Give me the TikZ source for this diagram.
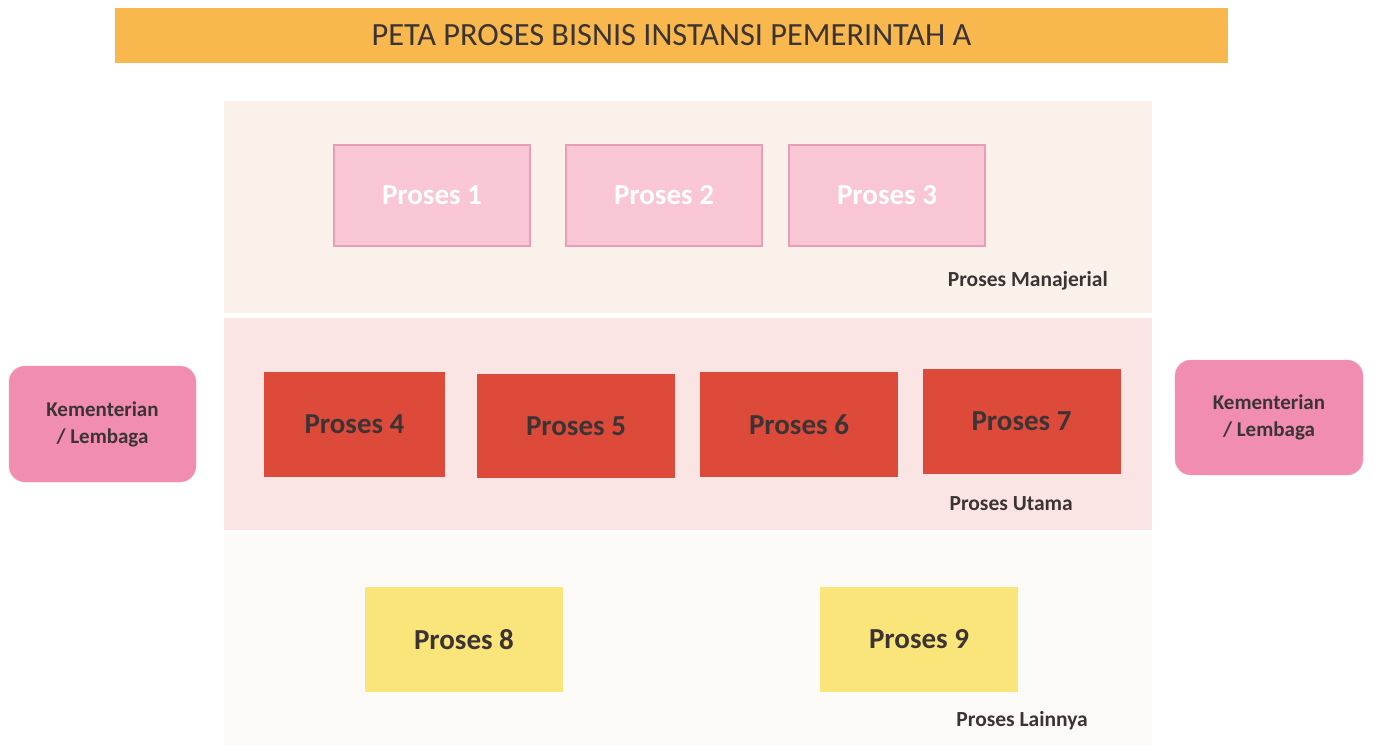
\documentclass[tikz,border=0pt]{standalone}
\usepackage{fontspec}
\setmainfont{Carlito}
\usepackage{xcolor}
\usepackage{tikz}
\definecolor{titleorange}{RGB}{248, 184, 78}
\definecolor{bandbeige}{RGB}{250, 242, 234}
\definecolor{bandpink}{RGB}{250, 228, 228}
\definecolor{bandwhite}{RGB}{252, 250, 246}
\definecolor{softpink}{RGB}{248, 198, 212}
\definecolor{softpinkline}{RGB}{234, 158, 182}
\definecolor{mainred}{RGB}{222, 74, 58}
\definecolor{lembagapink}{RGB}{240, 141, 176}
\definecolor{otheryellow}{RGB}{250, 229, 122}
\definecolor{darktext}{RGB}{60, 52, 52}
\usetikzlibrary{positioning, calc}

\begin{document}
\begin{tikzpicture}[
    x=1pt, y=-1pt,
    band/.style={rectangle, anchor=north west, inner sep=0pt,
                 minimum width=928pt, minimum height=212pt},
    mgrbox/.style={rectangle, draw=softpinkline, line width=2pt, fill=softpink,
                   minimum width=196pt, minimum height=101pt, inner sep=0pt,
                   text=white, font=\fontsize{29}{34}\selectfont\bfseries},
    mainbox/.style={rectangle, fill=mainred, minimum width=198pt, minimum height=104pt,
                    inner sep=0pt, text=darktext, font=\fontsize{29}{34}\selectfont\bfseries},
    otherbox/.style={rectangle, fill=otheryellow, minimum width=198pt, minimum height=105pt,
                     inner sep=0pt, text=darktext, font=\fontsize{29}{34}\selectfont\bfseries},
    lembaga/.style={rectangle, rounded corners=16pt, fill=lembagapink, draw=lembagapink!80!white,
                    minimum width=187pt, minimum height=115pt, align=center,
                    text=darktext, font=\fontsize{21}{27}\selectfont\bfseries},
    bandlabel/.style={anchor=east, inner sep=0pt, text=darktext,
                      font=\fontsize{21.5}{26}\selectfont\bfseries}
]
    \useasboundingbox (0,0) rectangle (1374,745);
    \fill[white] (0,0) rectangle (1374,745);

    % Title
    \node[rectangle, fill=titleorange, minimum width=1113pt, minimum height=55pt,
          text=darktext, font=\fontsize{32.4}{38}\selectfont] (title) at (671.5,35.5)
          {PETA PROSES BISNIS INSTANSI PEMERINTAH A};

    % Bands
    \node[band, fill=bandbeige] (mgr) at (224,101) {};
    \node[band, fill=bandpink, minimum height=212pt] (utm) at (224,318) {};
    \node[band, fill=bandwhite, minimum height=210pt] (lain) at (224,535) {};

    % Proses Manajerial
    \node[mgrbox] (p1) at (432,195) {Proses 1};
    \node[mgrbox] (p2) at (664,195.5) {Proses 2};
    \node[mgrbox] (p3) at (887,195) {Proses 3};
    \node[bandlabel] (lmgr) at (1108,281) {Proses Manajerial};

    % Proses Utama
    \node[mainbox, minimum width=181pt, minimum height=105pt] (p4) at (354.5,424.5) {Proses 4};
    \node[mainbox] (p5) at (576,426) {Proses 5};
    \node[mainbox, minimum height=105pt] (p6) at (799,424.5) {Proses 6};
    \node[mainbox, minimum height=105pt] (p7) at (1021.5,421.5) {Proses 7};
    \node[bandlabel] (lutm) at (1073,504) {Proses Utama};

    % Kementerian / Lembaga
    \node[lembaga, minimum height=116pt] (kl) at (102.5,424) {Kementerian\\/ Lembaga};
    \node[lembaga, minimum width=188pt] (kr) at (1269,417.5) {Kementerian\\/ Lembaga};

    % Proses Lainnya
    \node[otherbox] (p8) at (464,639.5) {Proses 8};
    \node[otherbox] (p9) at (919,639.5) {Proses 9};
    \node[bandlabel] (llain) at (1088,721) {Proses Lainnya};
\end{tikzpicture}
\end{document}
